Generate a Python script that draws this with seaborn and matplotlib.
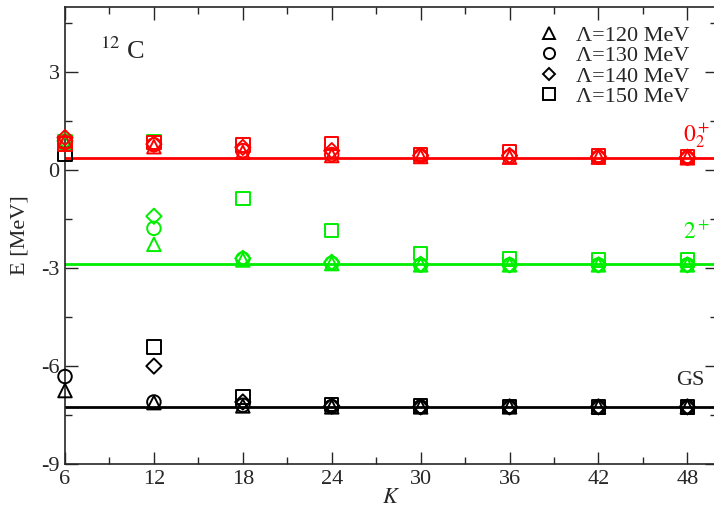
import numpy as np
import matplotlib
matplotlib.use("Agg")
import matplotlib.pyplot as plt
from matplotlib.lines import Line2D
from matplotlib.ticker import MultipleLocator
import pandas as pd
import seaborn as sns

# model space size K
K = [6, 12, 18, 24, 30, 36, 42, 48]
lambdas = ["120", "130", "140", "150"]
markers = {"120": "^", "130": "o", "140": "D", "150": "s"}

# ground state energies (black)
gs_120 = [-6.75, -7.12, -7.22, -7.25, -7.25, -7.25, -7.25, -7.25]
gs_130 = [-6.32, -7.10, -7.20, -7.24, -7.25, -7.25, -7.25, -7.25]
gs_140 = [np.nan, -6.00, -7.10, -7.22, -7.25, -7.25, -7.25, -7.25]
gs_150 = [0.50, -5.42, -6.95, -7.18, -7.23, -7.24, -7.25, -7.25]

# 2+ state (green)
s2_120 = [0.85, -2.27, -2.75, -2.86, -2.90, -2.90, -2.90, -2.90]
s2_130 = [0.85, -1.78, -2.72, -2.85, -2.90, -2.90, -2.90, -2.90]
s2_140 = [0.90, -1.41, -2.70, -2.82, -2.88, -2.90, -2.90, -2.90]
s2_150 = [0.88, 0.86, -0.86, -1.84, -2.55, -2.72, -2.75, -2.75]

# 0+_2 state (red)
s0_120 = [0.90, 0.72, 0.55, 0.45, 0.42, 0.40, 0.40, 0.38]
s0_130 = [0.85, 0.78, 0.60, 0.48, 0.44, 0.42, 0.40, 0.38]
s0_140 = [1.00, 0.80, 0.70, 0.60, 0.45, 0.45, 0.42, 0.40]
s0_150 = [0.80, 0.85, 0.78, 0.82, 0.48, 0.58, 0.45, 0.42]

# converged values (horizontal lines)
gs_line = -7.25
s2_line = -2.88
s0_line = 0.38

states = {
    "GS": ("black", gs_line, [gs_120, gs_130, gs_140, gs_150]),
    "2+": ("#00ee00", s2_line, [s2_120, s2_130, s2_140, s2_150]),
    "0+2": ("#ff0000", s0_line, [s0_120, s0_130, s0_140, s0_150]),
}

rows = []
for name, (col, line, series) in states.items():
    for lam, vals in zip(lambdas, series):
        for k, e in zip(K, vals):
            rows.append({"state": name, "Lambda": lam, "K": k, "E": e})
df = pd.DataFrame(rows).dropna()

sns.set_style("ticks")
plt.rcParams["font.family"] = ["Liberation Serif", "DejaVu Serif"]
plt.rcParams["mathtext.fontset"] = "stix"
plt.rcParams["axes.unicode_minus"] = False

fig = plt.figure(figsize=(7.14, 5.09), dpi=100)
ax = fig.add_axes([65 / 714, 45 / 509, 652 / 714, 457 / 509])

for name, (col, line, series) in states.items():
    ax.axhline(line, color=col, lw=2.0, zorder=1)
    for lam in lambdas:
        sub = df[(df.state == name) & (df.Lambda == lam)]
        sns.scatterplot(data=sub, x="K", y="E", ax=ax, marker=markers[lam],
                        facecolor="none", edgecolor=col, linewidth=1.4,
                        s=95 if lam != "140" else 60, legend=False,
                        zorder=3, clip_on=False)

ax.set_xlim(6, 50)
ax.set_ylim(-9, 5)
ax.set_xticks([6, 12, 18, 24, 30, 36, 42, 48])
ax.set_yticks([-9, -6, -3, 0, 3])
ax.xaxis.set_minor_locator(MultipleLocator(3))
ax.yaxis.set_minor_locator(MultipleLocator(1.5))
ax.tick_params(which="both", direction="in", top=True, right=True,
               labelsize=16, width=1, pad=4)
ax.tick_params(which="major", length=9)
ax.tick_params(which="minor", length=5)
for sp in ax.spines.values():
    sp.set_linewidth(1.2)

ax.set_xlabel("$K$", fontsize=16, labelpad=0)
ax.set_ylabel("E [MeV]", fontsize=16, labelpad=8)

ax.text(9.9, 3.65, "$^{12}$ C", fontsize=19, ha="center", va="center")
ax.text(47.7, 1.05, "$0^+_2$", fontsize=17, color="#ff0000", ha="left", va="center")
ax.text(47.7, -1.9, "$2^+$", fontsize=17, color="#00ee00", ha="left", va="center")
ax.text(48.2, -6.43, "GS", fontsize=16, ha="center", va="center")

handles = [Line2D([], [], ls="none", marker=markers[l], mfc="none", mec="black",
                  mew=1.4, ms=8 if l != "140" else 6.5) for l in lambdas]
labels = [f"Λ={l} MeV" for l in lambdas]
ax.legend(handles, labels, loc="upper left", bbox_to_anchor=(0.705, 0.985),
          frameon=False, fontsize=16, handlelength=1.2, handletextpad=0.6,
          labelspacing=0.0, borderpad=0)

fig.savefig("out.png", dpi=100)
